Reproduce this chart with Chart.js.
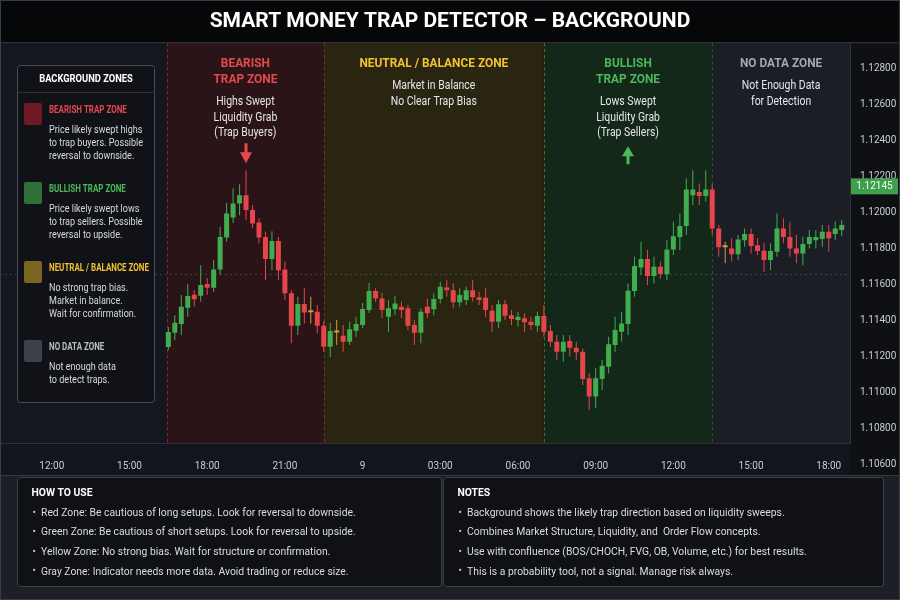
<!DOCTYPE html>
<html>
<head>
<meta charset="utf-8">
<title>Smart Money Trap Detector</title>
<script src="https://cdn.jsdelivr.net/npm/chart.js@4.4.1/dist/chart.umd.min.js"></script>
<style>
  html, body { margin: 0; padding: 0; background: #14171e; }
  #wrap { width: 900px; height: 600px; }
</style>
</head>
<body>
<div id="wrap"><canvas id="trapChart" width="900" height="600"></canvas></div>
<script>
// 15 min candles, first one at 16:30 (hours counted from day 8 00:00)
const firstCandleHour = 16.5;
const candleStepHours = 0.25;

const candleOpen = [
  1.11252, 1.11331, 1.11379, 1.11470, 1.11542, 1.11537, 1.11602, 1.11581, 1.11683, 1.11861,
  1.11972, 1.12050, 1.12096, 1.12013, 1.11944, 1.11864, 1.11741, 1.11841, 1.11683, 1.11550,
  1.11370, 1.11491, 1.11445, 1.11448, 1.11370, 1.11253, 1.11333, 1.11314, 1.11281, 1.11342,
  1.11374, 1.11457, 1.11563, 1.11522, 1.11420, 1.11461, 1.11476, 1.11467, 1.11374, 1.11331,
  1.11476, 1.11461, 1.11518, 1.11583, 1.11568, 1.11500, 1.11513, 1.11568, 1.11528, 1.11526,
  1.11453, 1.11392, 1.11489, 1.11429, 1.11402, 1.11411, 1.11392, 1.11370, 1.11424, 1.11341,
  1.11281, 1.11226, 1.11285, 1.11248, 1.11226, 1.11078, 1.10976, 1.11074, 1.11142, 1.11263,
  1.11337, 1.11379, 1.11563, 1.11694, 1.11741, 1.11646, 1.11698, 1.11656, 1.11794, 1.11864,
  1.11924, 1.12096, 1.12114, 1.12091, 1.12128, 1.11911, 1.11806, 1.11800, 1.11767, 1.11846,
  1.11880, 1.11818, 1.11787, 1.11735, 1.11781, 1.11911, 1.11864, 1.11800, 1.11772, 1.11824,
  1.11846, 1.11852, 1.11892, 1.11880, 1.11902
];
const candleHigh = [
  1.11363, 1.11429, 1.11541, 1.11602, 1.11568, 1.11707, 1.11635, 1.11735, 1.11920, 1.12052,
  1.12135, 1.12157, 1.12235, 1.12041, 1.11968, 1.11892, 1.11896, 1.11864, 1.11726, 1.11568,
  1.11531, 1.11578, 1.11531, 1.11485, 1.11396, 1.11385, 1.11402, 1.11374, 1.11392, 1.11420,
  1.11496, 1.11607, 1.11579, 1.11552, 1.11513, 1.11535, 1.11503, 1.11485, 1.11402, 1.11467,
  1.11522, 1.11550, 1.11614, 1.11624, 1.11605, 1.11578, 1.11587, 1.11624, 1.11559, 1.11578,
  1.11485, 1.11513, 1.11513, 1.11457, 1.11448, 1.11439, 1.11420, 1.11448, 1.11485, 1.11374,
  1.11318, 1.11318, 1.11318, 1.11281, 1.11244, 1.11106, 1.11133, 1.11179, 1.11309, 1.11420,
  1.11448, 1.11605, 1.11753, 1.11837, 1.11791, 1.11753, 1.11726, 1.11846, 1.11948, 1.11994,
  1.12189, 1.12235, 1.12161, 1.12235, 1.12161, 1.11930, 1.11837, 1.11856, 1.11874, 1.11911,
  1.11911, 1.11856, 1.11828, 1.11828, 1.11994, 1.11967, 1.11948, 1.11874, 1.11864, 1.11902,
  1.11902, 1.11930, 1.11930, 1.11948, 1.11957
];
const candleLow = [
  1.11235, 1.11291, 1.11318, 1.11420, 1.11476, 1.11503, 1.11541, 1.11559, 1.11652, 1.11837,
  1.11941, 1.11985, 1.11957, 1.11913, 1.11829, 1.11624, 1.11679, 1.11624, 1.11513, 1.11272,
  1.11318, 1.11383, 1.11383, 1.11328, 1.11226, 1.11196, 1.11263, 1.11226, 1.11263, 1.11309,
  1.11357, 1.11441, 1.11503, 1.11413, 1.11337, 1.11429, 1.11413, 1.11346, 1.11263, 1.11272,
  1.11411, 1.11429, 1.11494, 1.11531, 1.11467, 1.11476, 1.11485, 1.11503, 1.11485, 1.11420,
  1.11337, 1.11356, 1.11402, 1.11374, 1.11365, 1.11337, 1.11346, 1.11337, 1.11309, 1.11253,
  1.11179, 1.11170, 1.11198, 1.11179, 1.11041, 1.10902, 1.10911, 1.11013, 1.11106, 1.11226,
  1.11281, 1.11318, 1.11531, 1.11652, 1.11596, 1.11605, 1.11633, 1.11624, 1.11763, 1.11791,
  1.11874, 1.12041, 1.12041, 1.12059, 1.11874, 1.11753, 1.11717, 1.11726, 1.11735, 1.11809,
  1.11772, 1.11763, 1.11670, 1.11679, 1.11753, 1.11828, 1.11753, 1.11717, 1.11707, 1.11800,
  1.11800, 1.11809, 1.11781, 1.11846, 1.11868
];
const candleClose = [
  1.11335, 1.11387, 1.11476, 1.11535, 1.11517, 1.11596, 1.11581, 1.11683, 1.11864, 1.11994,
  1.12050, 1.12096, 1.12013, 1.11939, 1.11861, 1.11741, 1.11841, 1.11679, 1.11550, 1.11370,
  1.11491, 1.11444, 1.11449, 1.11370, 1.11253, 1.11341, 1.11337, 1.11281, 1.11350, 1.11379,
  1.11463, 1.11563, 1.11522, 1.11457, 1.11467, 1.11494, 1.11457, 1.11370, 1.11331, 1.11448,
  1.11439, 1.11518, 1.11587, 1.11568, 1.11500, 1.11541, 1.11568, 1.11528, 1.11513, 1.11457,
  1.11392, 1.11489, 1.11426, 1.11407, 1.11420, 1.11389, 1.11374, 1.11424, 1.11337, 1.11281,
  1.11226, 1.11281, 1.11248, 1.11222, 1.11074, 1.10976, 1.11078, 1.11148, 1.11267, 1.11346,
  1.11383, 1.11564, 1.11702, 1.11741, 1.11646, 1.11698, 1.11657, 1.11794, 1.11868, 1.11924,
  1.12128, 1.12128, 1.12091, 1.12128, 1.11911, 1.11806, 1.11809, 1.11767, 1.11850, 1.11880,
  1.11813, 1.11785, 1.11735, 1.11785, 1.11911, 1.11864, 1.11800, 1.11772, 1.11824, 1.11864,
  1.11864, 1.11892, 1.11856, 1.11911, 1.11930
];

// time axis
const tickHours = [12, 15, 18, 21, 24, 27, 30, 33, 36, 39, 42];
const tickLabels = ['12:00', '15:00', '18:00', '21:00', '9', '03:00', '06:00', '09:00', '12:00', '15:00', '18:00'];

// price axis
const priceTicks = [1.108, 1.110, 1.112, 1.114, 1.116, 1.118, 1.120, 1.122, 1.124, 1.126, 1.128];
const bottomPriceTick = 1.106;
const lastPrice = 1.12145;
const refLevel = 1.11657;

// background zones
const zoneStartHour = [16.45, 22.5, 31.0, 37.5];
const zoneEndHour = [22.5, 31.0, 37.5, 42.82];
const zoneTitles = [['BEARISH', 'TRAP ZONE'], ['NEUTRAL / BALANCE ZONE'], ['BULLISH', 'TRAP ZONE'], ['NO DATA ZONE']];
const zoneNotes = [
  ['Highs Swept', 'Liquidity Grab', '(Trap Buyers)'],
  ['Market in Balance', 'No Clear Trap Bias'],
  ['Lows Swept', 'Liquidity Grab', '(Trap Sellers)'],
  ['Not Enough Data', 'for Detection']
];
const sweepHighHour = 19.5;  // candle that swept the highs

// legend box
const legendTitles = ['BEARISH TRAP ZONE', 'BULLISH TRAP ZONE', 'NEUTRAL / BALANCE ZONE', 'NO DATA ZONE'];
const legendNotes = [
  ['Price likely swept highs', 'to trap buyers. Possible', 'reversal to downside.'],
  ['Price likely swept lows', 'to trap sellers. Possible', 'reversal to upside.'],
  ['No strong trap bias.', 'Market in balance.', 'Wait for confirmation.'],
  ['Not enough data', 'to detect traps.']
];

const howToUse = [
  'Red Zone: Be cautious of long setups. Look for reversal to downside.',
  'Green Zone: Be cautious of short setups. Look for reversal to upside.',
  'Yellow Zone: No strong bias. Wait for structure or confirmation.',
  'Gray Zone: Indicator needs more data. Avoid trading or reduce size.'
];
const notes = [
  'Background shows the likely trap direction based on liquidity sweeps.',
  'Combines Market Structure, Liquidity, and  Order Flow concepts.',
  'Use with confluence (BOS/CHOCH, FVG, OB, Volume, etc.) for best results.',
  'This is a probability tool, not a signal. Manage risk always.'
];

// colours
const UP = '#41ad4f', DOWN = '#e5454b', DOJI = '#c9a43a';
const zoneFill = ['#2b1417', '#2a2511', '#14281a', '#1b1e25'];
const zoneInk = ['#e5484d', '#f2c230', '#4cb85a', '#a3a7ae'];
const zoneEdge = ['rgba(229,72,77,0.45)', 'rgba(229,72,77,0.45)', 'rgba(200,170,60,0.45)', 'rgba(76,184,90,0.35)'];
const legendInk = ['#e5484d', '#4cb85a', '#f2c230', '#b9bdc4'];
const legendSwatch = ['#6e1a24', '#2f7037', '#7b6520', '#3e4149'];

const candleHours = candleOpen.map((_, i) => firstCandleHour + i * candleStepHours);

function candleColor(i) {
  const d = candleClose[i] - candleOpen[i];
  if (Math.abs(d) < 0.00006) return DOJI;
  return d > 0 ? UP : DOWN;
}

function say(ctx, s, x, y, o) {
  ctx.save();
  ctx.font = (o.weight || 'normal') + ' ' + o.size + 'px Roboto';
  ctx.fillStyle = o.color;
  ctx.textAlign = o.align || 'left';
  ctx.textBaseline = 'middle';
  ctx.translate(x, y);
  ctx.scale(o.sx || 1, 1);
  ctx.fillText(s, 0, 0);
  ctx.restore();
}

function box(ctx, x, y, w, h, r, fill, stroke) {
  ctx.beginPath();
  ctx.moveTo(x + r, y);
  ctx.arcTo(x + w, y, x + w, y + h, r);
  ctx.arcTo(x + w, y + h, x, y + h, r);
  ctx.arcTo(x, y + h, x, y, r);
  ctx.arcTo(x, y, x + w, y, r);
  ctx.closePath();
  if (fill) { ctx.fillStyle = fill; ctx.fill(); }
  if (stroke) { ctx.strokeStyle = stroke; ctx.lineWidth = 1; ctx.stroke(); }
}

// backgrounds, zones, reference level
const backdrop = {
  id: 'backdrop',
  beforeDraw(chart) {
    const {ctx, chartArea: a, scales: {x, y}} = chart;
    ctx.save();
    ctx.fillStyle = '#14171e';
    ctx.fillRect(0, 0, 900, 600);
    // title bar
    ctx.fillStyle = '#060709';
    ctx.fillRect(0, 0, 900, a.top - 1);
    // zones
    zoneStartHour.forEach((s, i) => {
      const x0 = x.getPixelForValue(s), x1 = x.getPixelForValue(zoneEndHour[i]);
      ctx.fillStyle = zoneFill[i];
      ctx.fillRect(x0, a.top, x1 - x0, a.bottom - a.top);
    });
    // price column and time band
    ctx.fillStyle = '#0e1014';
    ctx.fillRect(a.right, a.top, 900 - a.right, a.bottom + 32 - a.top);
    ctx.fillStyle = '#12151b';
    ctx.fillRect(0, a.bottom, a.right, 32);
    // lower panel area
    ctx.fillStyle = '#1c1f26';
    ctx.fillRect(0, a.bottom + 32, 900, 600 - a.bottom - 32);
    ctx.strokeStyle = '#353840';
    ctx.lineWidth = 1;
    ctx.beginPath();
    ctx.moveTo(0, a.top - 0.5); ctx.lineTo(900, a.top - 0.5);
    ctx.moveTo(0, a.bottom + 32.5); ctx.lineTo(900, a.bottom + 32.5);
    ctx.stroke();
    // zone edges
    ctx.setLineDash([3, 3]);
    zoneStartHour.forEach((s, i) => {
      const px = Math.round(x.getPixelForValue(s)) + 0.5;
      ctx.strokeStyle = zoneEdge[i];
      ctx.beginPath(); ctx.moveTo(px, a.top); ctx.lineTo(px, a.bottom); ctx.stroke();
    });
    // reference level
    ctx.setLineDash([2, 3]);
    ctx.strokeStyle = 'rgba(170,170,170,0.25)';
    const ly = Math.round(y.getPixelForValue(refLevel)) + 0.5;
    ctx.beginPath(); ctx.moveTo(a.left, ly); ctx.lineTo(a.right, ly); ctx.stroke();
    ctx.restore();
  }
};

// labels, arrows, legend box and lower panels
const overlay = {
  id: 'overlay',
  afterDraw(chart) {
    const {ctx, chartArea: a, scales: {x, y}} = chart;

    zoneTitles.forEach((lines, i) => {
      const cx = (x.getPixelForValue(zoneStartHour[i]) + x.getPixelForValue(zoneEndHour[i])) / 2;
      let ty = a.top + 20;
      lines.forEach(l => { say(ctx, l, cx, ty, {size: 13.5, weight: 'bold', color: zoneInk[i], align: 'center', sx: 0.88}); ty += 16; });
      ty += 7;
      zoneNotes[i].forEach(l => { say(ctx, l, cx, ty, {size: 12, color: '#e4e6e9', align: 'center', sx: 0.87}); ty += 15.5; });
    });

    // down arrow above the swept high
    const ax = Math.round(x.getPixelForValue(sweepHighHour));
    ctx.save();
    ctx.fillStyle = '#e5484d';
    ctx.fillRect(ax - 1.5, a.top + 100, 3, 10);
    ctx.beginPath(); ctx.moveTo(ax - 6, a.top + 109); ctx.lineTo(ax + 6, a.top + 109); ctx.lineTo(ax, a.top + 120); ctx.closePath(); ctx.fill();
    // up arrow in the bullish zone
    const gx = Math.round((x.getPixelForValue(zoneStartHour[2]) + x.getPixelForValue(zoneEndHour[2])) / 2);
    ctx.fillStyle = '#4cb85a';
    ctx.beginPath(); ctx.moveTo(gx, a.top + 103); ctx.lineTo(gx - 6, a.top + 113); ctx.lineTo(gx + 6, a.top + 113); ctx.closePath(); ctx.fill();
    ctx.fillRect(gx - 1.5, a.top + 112, 3, 9);
    ctx.restore();

    // price tag
    const py = y.getPixelForValue(lastPrice);
    ctx.fillStyle = '#3e9f4c';
    ctx.fillRect(a.right + 1, py - 8, 47, 16);
    say(ctx, lastPrice.toFixed(5), a.right + 24.5, py, {size: 10, color: '#f2fff3', align: 'center'});
    // lowest price label sits in the time band
    say(ctx, bottomPriceTick.toFixed(5), a.right + 10, y.getPixelForValue(bottomPriceTick), {size: 10, color: '#c9cdd3'});

    // legend box
    box(ctx, 17.5, 65.5, 137, 337, 3, '#101217', '#474b55');
    say(ctx, 'BACKGROUND ZONES', 86, 79, {size: 11, weight: 'bold', color: '#ffffff', align: 'center', sx: 0.85});
    ctx.fillStyle = '#2c3038';
    ctx.fillRect(18, 92, 136, 1);
    legendTitles.forEach((t, i) => {
      const top = 103 + i * 79;
      box(ctx, 24, top, 18, 22, 2, legendSwatch[i]);
      say(ctx, t, 49, top + 7, {size: 10.5, weight: 'bold', color: legendInk[i], sx: 0.76});
      legendNotes[i].forEach((l, k) => say(ctx, l, 49, top + 27 + k * 13.2, {size: 10.5, color: '#d6d9de', sx: 0.86}));
    });

    // lower panels
    const panels = [
      {x: 17.5, w: 424, title: 'HOW TO USE', rows: howToUse},
      {x: 443.5, w: 440, title: 'NOTES', rows: notes}
    ];
    panels.forEach(p => {
      box(ctx, p.x, 477.5, p.w, 109, 3, '#0f1115', '#3d414a');
      say(ctx, p.title, p.x + 14, 493, {size: 11.5, weight: 'bold', color: '#ffffff', sx: 0.9});
      p.rows.forEach((r, k) => {
        const ry = 513 + k * 19.6;
        say(ctx, '•', p.x + 15, ry, {size: 10, color: '#c9ccd1'});
        say(ctx, r, p.x + 23.5, ry, {size: 11.5, color: '#d9dce0', sx: 0.9});
      });
    });

    // outer frame
    ctx.strokeStyle = '#3a3d44';
    ctx.lineWidth = 1;
    ctx.strokeRect(0.5, 0.5, 899, 599);
  }
};

const wicks = candleHours.map((h, i) => ({x: h, y: [candleLow[i], candleHigh[i]]}));
const bodies = candleHours.map((h, i) => ({x: h, y: [candleOpen[i], candleClose[i]]}));
const colors = candleHours.map((_, i) => candleColor(i));

Chart.defaults.font.family = 'Roboto';

new Chart(document.getElementById('trapChart'), {
  type: 'bar',
  data: {
    datasets: [
      {label: 'wick', data: wicks, grouped: false, maxBarThickness: 1, backgroundColor: colors, borderWidth: 0},
      {label: 'body', data: bodies, grouped: false, barPercentage: 1, categoryPercentage: 0.8,
       maxBarThickness: 5, minBarLength: 2, backgroundColor: colors, borderWidth: 0}
    ]
  },
  options: {
    responsive: false,
    animation: false,
    devicePixelRatio: 1,
    events: [],
    layout: {padding: {left: 0, right: 0, top: 0, bottom: 125}},
    plugins: {
      legend: {display: false},
      tooltip: {enabled: false},
      title: {
        display: true,
        text: 'SMART MONEY TRAP DETECTOR – BACKGROUND',
        color: '#ffffff',
        font: {family: 'Roboto', size: 21, weight: 'bold'},
        padding: {top: 9, bottom: 9}
      }
    },
    scales: {
      x: {
        type: 'linear',
        min: 10,
        max: 42.82,
        offset: false,
        grid: {display: false},
        border: {display: true, color: '#2e3139'},
        afterFit(s) { s.height = 32; },
        afterBuildTicks(s) { s.ticks = tickHours.map(v => ({value: v})); },
        ticks: {
          color: '#c9cdd3',
          font: {size: 10},
          padding: 9,
          maxRotation: 0,
          autoSkip: false,
          callback: v => tickLabels[tickHours.indexOf(v)]
        }
      },
      y: {
        position: 'right',
        min: 1.10718,
        max: 1.12941,
        grid: {display: false, drawTicks: false},
        border: {display: true, color: '#2e3139'},
        afterFit(s) { s.width = 50; },
        afterBuildTicks(s) { s.ticks = priceTicks.map(v => ({value: v})); },
        ticks: {
          color: '#c9cdd3',
          font: {size: 10},
          padding: 10,
          callback: v => v.toFixed(5)
        }
      }
    }
  },
  plugins: [backdrop, overlay]
});
</script>
</body>
</html>
